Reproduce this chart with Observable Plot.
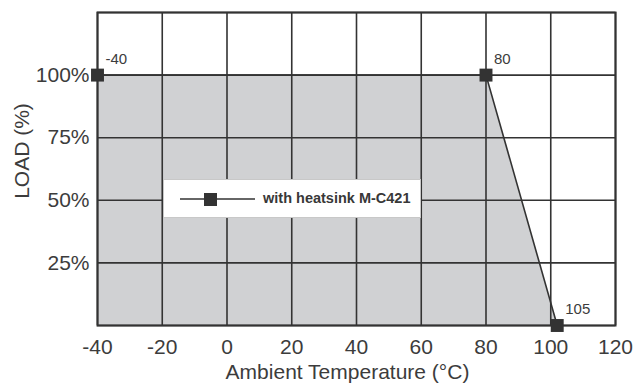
<!DOCTYPE html>
<html><head><meta charset="utf-8">
<script src="https://cdn.jsdelivr.net/npm/d3@7"></script>
<script src="https://cdn.jsdelivr.net/npm/@observablehq/plot@0.6"></script>
<style>
body{margin:0;background:#fff;}
#wrap{position:relative;width:636px;height:385px;}
#legend{position:absolute;left:163px;top:179px;width:258px;height:39px;background:#fff;border:1px solid #c8c8c8;box-sizing:border-box;font:bold 14.5px "Liberation Sans",Arial,sans-serif;color:#383838;}
#legend svg{position:absolute;left:0;top:0;}
#legend span{position:absolute;left:99px;top:10px;white-space:nowrap;}
</style></head><body><div id="wrap"></div>
<script>
const temps = [-40, 80, 102];
const loads = [100, 100, 0];
const pointLabels = ["-40", "80", "105"];
const xTicks = [-40, -20, 0, 20, 40, 60, 80, 100, 120];
const yTicks = [25, 50, 75, 100];
const yGrid = [0, 25, 50, 75, 100, 125];
const seriesName = "with heatsink M-C421";
const xLabel = "Ambient Temperature (°C)";
const yLabel = "LOAD (%)";

const data = temps.map((t, i) => ({t, load: loads[i], label: pointLabels[i]}));
const ink = "#333";
const txt = "#3c3c3c";

const chart = Plot.plot({
  width: 636,
  height: 385,
  marginLeft: 97,
  marginRight: 21,
  marginTop: 12,
  marginBottom: 60,
  style: {fontFamily: "'Liberation Sans', Arial, sans-serif", fontSize: "21px", color: txt, background: "#fff"},
  x: {domain: [-40, 120]},
  y: {domain: [0, 125]},
  marks: [
    Plot.areaY(data, {x: "t", y: "load", fill: "#d0d1d3"}),
    Plot.gridX(xTicks, {stroke: ink, strokeOpacity: 1, strokeWidth: 1.6}),
    Plot.gridY(yGrid, {stroke: ink, strokeOpacity: 1, strokeWidth: 1.6}),
    Plot.frame({stroke: ink, strokeWidth: 2}),
    Plot.line(data, {x: "t", y: "load", stroke: ink, strokeWidth: 1.6}),
    Plot.dot(data, {x: "t", y: "load", symbol: "square", r: 7.3, fill: ink, stroke: "none"}),
    Plot.text(data, {x: "t", y: "load", text: "label", textAnchor: "start", dx: 8, dy: -16, fontSize: 15, fill: txt}),
    Plot.axisX(xTicks, {tickSize: 0, tickPadding: 14, label: null, tickFormat: d => String(d)}),
    Plot.axisY(yTicks, {tickSize: 0, tickPadding: 8, label: null, tickFormat: d => d + "%"}),
    Plot.text([xLabel], {frameAnchor: "bottom", textAnchor: "middle", dx: -9, dy: 47, lineAnchor: "middle", fontSize: 21, fill: txt}),
    Plot.text([yLabel], {frameAnchor: "left", textAnchor: "middle", dx: -75, dy: -18, rotate: -90, lineAnchor: "middle", fontSize: 21, fill: txt})
  ]
});
const wrap = document.getElementById("wrap");
wrap.appendChild(chart);

const legend = document.createElement("div");
legend.id = "legend";
legend.innerHTML = `<svg width="256" height="37"><line x1="16" x2="91" y1="19" y2="19" stroke="${ink}" stroke-width="1.6"/><rect x="40" y="13" width="13" height="13" fill="${ink}"/></svg><span>${seriesName}</span>`;
wrap.appendChild(legend);
</script>
</body></html>
